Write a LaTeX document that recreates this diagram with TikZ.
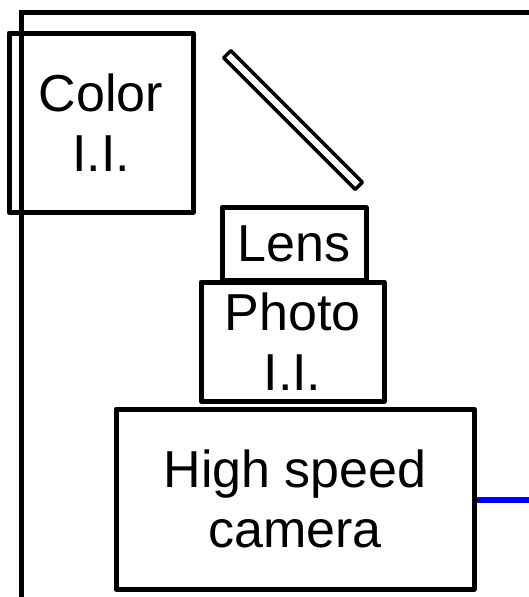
\documentclass[tikz,border=0pt]{standalone}
\usepackage{fontspec}
\setmainfont{Liberation Sans}
\usetikzlibrary{positioning}

\tikzset{
  unit/.style={draw,line width=5pt,line join=round,align=center,inner sep=0pt,
    font=\fontsize{52}{60}\selectfont},
}

\begin{document}
\begin{tikzpicture}[x=1pt,y=-1pt]
  \useasboundingbox (0,0) rectangle (529,597);
  \clip (0,0) rectangle (529,597);
  % cadre
  \draw[line width=5pt] (21,640) -- (21,12) -- (560,12);
  % blocs
  \node[unit,minimum width=184pt,minimum height=179pt] (color) at (101,122.5) {Color\\I.I.};
  \node[unit,minimum width=144pt,minimum height=73pt] (lens) at (294,244) {Lens};
  \node[unit,minimum width=183pt,minimum height=119pt] (photo) at (292.5,341.5) {Photo\\I.I.};
  \node[unit,minimum width=358pt,minimum height=180pt] (camera) at (295,499) {High speed\\camera};
  % miroir
  \node[draw,line width=3.5pt,line join=round,rotate=-45,minimum width=186pt,minimum height=10pt,inner sep=0pt] (mirror) at (293,120) {};
  % sortie
  \coordinate (out) at (540,500);
  \draw[blue,line width=6pt] (camera.east |- out) -- (out);
\end{tikzpicture}
\end{document}
